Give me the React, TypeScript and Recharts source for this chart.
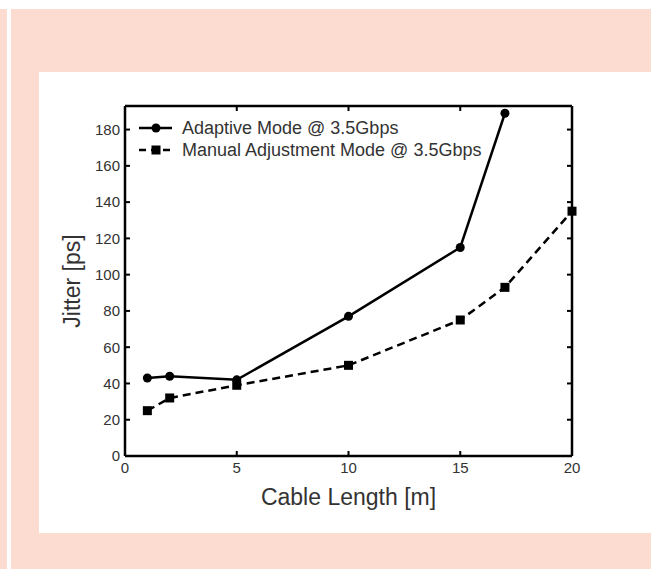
import { LineChart, Line, XAxis, YAxis, Legend } from "recharts"

const cableLength = [1, 2, 5, 10, 15, 17, 20]
const adaptiveJitter = [43, 44, 42, 77, 115, 189, null]
const manualJitter = [25, 32, 39, 50, 75, 93, 135]
const xTicks = [0, 5, 10, 15, 20]
const yTicks = [0, 20, 40, 60, 80, 100, 120, 140, 160, 180]

const seriesNames = ["Adaptive Mode @ 3.5Gbps", "Manual Adjustment Mode @ 3.5Gbps"]

const data = cableLength.map((len, i) => ({
  len,
  adaptive: adaptiveJitter[i],
  manual: manualJitter[i],
}))

const font = "'Liberation Sans', Arial, Helvetica, sans-serif"
const textColor = "#333"

const SquareDot = (props: any) => {
  const { cx, cy } = props
  if (cx == null || cy == null) return null
  return <rect x={cx - 4.5} y={cy - 4.5} width={9} height={9} fill="#000" />
}

const LegendBox = () => (
  <div style={{ fontFamily: font, fontSize: 18, color: textColor, lineHeight: "22px" }}>
    <div style={{ display: "flex", alignItems: "center" }}>
      <svg width={36} height={12} style={{ marginRight: 8 }}>
        <line x1={1} y1={6} x2={34} y2={6} stroke="#000" strokeWidth={2.5} />
        <circle cx={18} cy={6} r={4.5} fill="#000" />
      </svg>
      <span>{seriesNames[0]}</span>
    </div>
    <div style={{ display: "flex", alignItems: "center" }}>
      <svg width={36} height={12} style={{ marginRight: 8 }}>
        <line x1={1} y1={6} x2={34} y2={6} stroke="#000" strokeWidth={2.5} strokeDasharray="7 5" />
        <rect x={13.5} y={1.5} width={9} height={9} fill="#000" />
      </svg>
      <span>{seriesNames[1]}</span>
    </div>
  </div>
)

export default function App() {
  return (
    <div style={{ position: "fixed", left: 0, top: 0, width: 651, height: 569, background: "#fff", overflow: "hidden" }}>
      <div style={{ position: "absolute", left: 0, top: 9, width: 7, height: 560, background: "#fcdcd0" }} />
      <div style={{ position: "absolute", left: 11, top: 9, width: 640, height: 560, background: "#fcdcd0" }} />
      <div style={{ position: "absolute", left: 39, top: 72, width: 612, height: 461, background: "#fff" }} />
      <div style={{ position: "absolute", left: 0, top: 0 }}>
        <LineChart
          width={651}
          height={569}
          data={data}
          margin={{ top: 100, right: 69, bottom: 35, left: 19 }}
        >
          <XAxis
            dataKey="len"
            type="number"
            domain={[0, 20]}
            ticks={xTicks}
            height={78}
            axisLine={{ stroke: "#000", strokeWidth: 2.5 }}
            tickLine={{ stroke: "#000", strokeWidth: 2 }}
            tickSize={-5}
            tickMargin={11}
            tick={{ fill: textColor, fontSize: 15, fontFamily: font }}
            label={{ value: "Cable Length [m]", position: "center", dy: 2, fill: textColor, fontSize: 23, fontFamily: font }}
          />
          <XAxis
            xAxisId="top"
            dataKey="len"
            type="number"
            orientation="top"
            domain={[0, 20]}
            ticks={xTicks}
            height={6}
            axisLine={{ stroke: "#000", strokeWidth: 2.5 }}
            tickLine={{ stroke: "#000", strokeWidth: 2 }}
            tickSize={-5}
            tickFormatter={() => ""}
          />
          <YAxis
            type="number"
            domain={[0, 193]}
            ticks={yTicks}
            width={106}
            allowDataOverflow
            axisLine={{ stroke: "#000", strokeWidth: 2.5 }}
            tickLine={{ stroke: "#000", strokeWidth: 2 }}
            tickSize={-5}
            tickMargin={10}
            tick={{ fill: textColor, fontSize: 15, fontFamily: font }}
            label={{ value: "Jitter [ps]", angle: -90, position: "center", fill: textColor, fontSize: 23, fontFamily: font }}
          />
          <YAxis
            yAxisId="right"
            orientation="right"
            type="number"
            domain={[0, 193]}
            ticks={yTicks}
            width={10}
            allowDataOverflow
            axisLine={{ stroke: "#000", strokeWidth: 2.5 }}
            tickLine={{ stroke: "#000", strokeWidth: 2 }}
            tickSize={-5}
            tickFormatter={() => ""}
          />
          <Legend
            layout="vertical"
            align="center"
            verticalAlign="middle"
            content={<LegendBox />}
            wrapperStyle={{ position: "absolute", left: 138, top: 117, width: "auto" }}
          />
          <Line
            dataKey="adaptive"
            stroke="#000"
            strokeWidth={2.5}
            dot={{ r: 4.5, fill: "#000", stroke: "#000", strokeWidth: 0 }}
            connectNulls={false}
            isAnimationActive={false}
          />
          <Line
            dataKey="manual"
            stroke="#000"
            strokeWidth={2.5}
            strokeDasharray="8 5"
            dot={<SquareDot />}
            isAnimationActive={false}
          />
        </LineChart>
      </div>
    </div>
  )
}
